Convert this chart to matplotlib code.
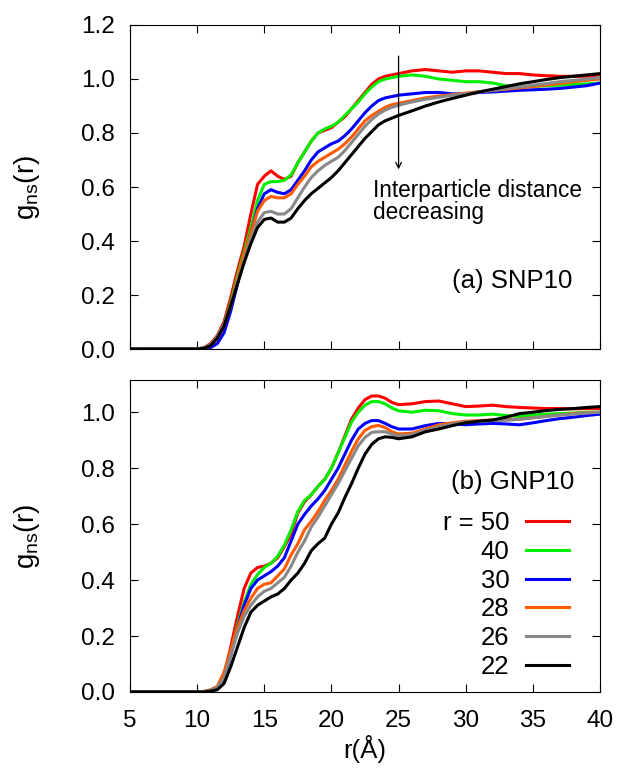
import matplotlib
matplotlib.use("Agg")
import matplotlib.pyplot as plt

plt.rcParams['font.family'] = ['Liberation Sans', 'DejaVu Sans']
plt.rcParams['mathtext.default'] = 'regular'

# distance grid (Angstrom)
r = [5, 10, 10.5, 11, 11.5, 12, 12.5, 13, 13.5, 14, 14.5, 15, 15.5, 16, 16.5, 17,
     17.5, 18, 18.5, 19, 19.5, 20, 20.5, 21, 21.5, 22, 22.5, 23, 23.5, 24, 24.5,
     25, 26, 27, 28, 29, 30, 31, 32, 33, 34, 35, 36, 37, 38, 39, 40]

labels = ['r = 50', '40', '30', '28', '26', '22']
colors = ['#ff0000', '#00ee00', '#0000ff', '#ff5a00', '#888888', '#000000']

# (a) SNP10
snp_50 = [0, 0, 0.005, 0.02, 0.05, 0.10, 0.19, 0.29, 0.38, 0.50, 0.61, 0.64, 0.66, 0.64,
          0.628, 0.64, 0.69, 0.73, 0.77, 0.80, 0.81, 0.82, 0.84, 0.86, 0.89, 0.92, 0.95,
          0.98, 1.0, 1.01, 1.015, 1.02, 1.03, 1.035, 1.03, 1.025, 1.03, 1.03, 1.025,
          1.02, 1.02, 1.015, 1.012, 1.01, 1.01, 1.01, 1.015]
snp_40 = [0, 0, 0.004, 0.015, 0.045, 0.09, 0.17, 0.27, 0.36, 0.45, 0.55, 0.61, 0.62,
          0.62, 0.625, 0.645, 0.69, 0.73, 0.77, 0.80, 0.815, 0.825, 0.84, 0.865, 0.89,
          0.915, 0.945, 0.97, 0.99, 1.0, 1.005, 1.01, 1.015, 1.01, 1.0, 0.995, 0.99,
          0.99, 0.985, 0.975, 0.97, 0.972, 0.975, 0.977, 0.98, 0.982, 0.985]
snp_30 = [0, 0, 0.0, 0.005, 0.02, 0.06, 0.14, 0.24, 0.34, 0.43, 0.52, 0.575, 0.59, 0.58,
          0.575, 0.59, 0.625, 0.66, 0.70, 0.73, 0.745, 0.76, 0.77, 0.79, 0.815, 0.845,
          0.875, 0.9, 0.92, 0.93, 0.935, 0.94, 0.945, 0.95, 0.95, 0.945, 0.945, 0.95,
          0.952, 0.955, 0.958, 0.96, 0.962, 0.965, 0.97, 0.975, 0.985]
snp_28 = [0, 0, 0.003, 0.012, 0.04, 0.085, 0.16, 0.26, 0.35, 0.43, 0.51, 0.55, 0.565,
          0.56, 0.56, 0.575, 0.61, 0.64, 0.675, 0.695, 0.71, 0.725, 0.74, 0.76, 0.785,
          0.815, 0.845, 0.865, 0.88, 0.895, 0.905, 0.91, 0.92, 0.93, 0.937, 0.942,
          0.948, 0.953, 0.958, 0.962, 0.967, 0.972, 0.978, 0.983, 0.99, 0.995, 1.0]
snp_26 = [0, 0, 0.005, 0.015, 0.045, 0.09, 0.16, 0.25, 0.33, 0.41, 0.47, 0.505, 0.51,
          0.50, 0.50, 0.52, 0.56, 0.60, 0.635, 0.66, 0.68, 0.695, 0.71, 0.735, 0.765,
          0.795, 0.825, 0.85, 0.87, 0.885, 0.895, 0.903, 0.915, 0.925, 0.932, 0.94,
          0.945, 0.952, 0.958, 0.965, 0.97, 0.977, 0.983, 0.99, 0.995, 1.0, 1.005]
snp_22 = [0, 0, 0.003, 0.012, 0.04, 0.085, 0.16, 0.24, 0.32, 0.39, 0.45, 0.48, 0.485,
          0.47, 0.47, 0.485, 0.52, 0.55, 0.575, 0.595, 0.615, 0.635, 0.66, 0.69, 0.72,
          0.75, 0.78, 0.805, 0.83, 0.845, 0.855, 0.865, 0.882, 0.9, 0.915, 0.928, 0.94,
          0.952, 0.962, 0.972, 0.982, 0.99, 0.998, 1.005, 1.01, 1.015, 1.02]

# (b) GNP10
gnp_50 = [0, 0, 0.0, 0.005, 0.015, 0.06, 0.16, 0.27, 0.37, 0.425, 0.445, 0.45, 0.46,
          0.48, 0.52, 0.565, 0.64, 0.68, 0.705, 0.735, 0.76, 0.80, 0.855, 0.915, 0.975,
          1.015, 1.045, 1.058, 1.058, 1.05, 1.035, 1.027, 1.03, 1.038, 1.04, 1.03, 1.02,
          1.022, 1.025, 1.02, 1.017, 1.015, 1.013, 1.013, 1.012, 1.013, 1.013]
gnp_40 = [0, 0, 0, 0.004, 0.012, 0.05, 0.14, 0.24, 0.32, 0.385, 0.42, 0.445, 0.46,
          0.485, 0.525, 0.58, 0.645, 0.685, 0.705, 0.735, 0.76, 0.80, 0.855, 0.91,
          0.965, 1.0, 1.025, 1.038, 1.038, 1.03, 1.015, 1.005, 1.0, 1.007, 1.005, 0.995,
          0.99, 0.99, 0.993, 0.988, 0.985, 0.99, 0.993, 0.995, 0.997, 1.0, 1.0]
gnp_30 = [0, 0, 0, 0.004, 0.012, 0.05, 0.13, 0.23, 0.31, 0.37, 0.40, 0.415, 0.43, 0.45,
          0.48, 0.54, 0.6, 0.635, 0.665, 0.69, 0.72, 0.76, 0.8, 0.85, 0.9, 0.94, 0.96,
          0.97, 0.97, 0.96, 0.948, 0.94, 0.94, 0.952, 0.96, 0.958, 0.955, 0.958, 0.96,
          0.958, 0.955, 0.962, 0.97, 0.977, 0.982, 0.988, 0.993]
gnp_28 = [0, 0, 0.002, 0.008, 0.02, 0.07, 0.15, 0.23, 0.29, 0.335, 0.37, 0.385, 0.39,
          0.415, 0.44, 0.49, 0.53, 0.58, 0.61, 0.645, 0.685, 0.72, 0.76, 0.81, 0.86,
          0.905, 0.935, 0.948, 0.953, 0.945, 0.93, 0.922, 0.925, 0.94, 0.955, 0.962,
          0.968, 0.97, 0.972, 0.973, 0.975, 0.98, 0.985, 0.99, 0.995, 0.998, 1.0]
gnp_26 = [0, 0, 0.002, 0.006, 0.016, 0.05, 0.13, 0.21, 0.27, 0.31, 0.34, 0.36, 0.37,
          0.39, 0.41, 0.45, 0.5, 0.54, 0.59, 0.625, 0.665, 0.705, 0.745, 0.79, 0.835,
          0.88, 0.91, 0.928, 0.93, 0.93, 0.922, 0.915, 0.92, 0.935, 0.948, 0.958, 0.965,
          0.968, 0.97, 0.971, 0.975, 0.98, 0.985, 0.99, 0.993, 0.997, 1.0]
gnp_22 = [0, 0, 0, 0.003, 0.008, 0.03, 0.09, 0.16, 0.23, 0.285, 0.31, 0.325, 0.34, 0.35,
          0.37, 0.4, 0.425, 0.46, 0.505, 0.53, 0.55, 0.6, 0.64, 0.695, 0.745, 0.8, 0.85,
          0.885, 0.905, 0.912, 0.91, 0.905, 0.912, 0.93, 0.94, 0.952, 0.962, 0.968,
          0.972, 0.982, 0.995, 1.0, 1.006, 1.01, 1.013, 1.017, 1.02]

snp = [snp_50, snp_40, snp_30, snp_28, snp_26, snp_22]
gnp = [gnp_50, gnp_40, gnp_30, gnp_28, gnp_26, gnp_22]

fs_tick = 17.5
fs_lab = 18.5
fig = plt.figure(figsize=(6.21, 7.71), dpi=100)
ax1 = fig.add_axes([0.2093, 0.5473, 0.7569, 0.4203])
ax2 = fig.add_axes([0.2093, 0.1025, 0.7569, 0.4046])

for ys, c, lab in zip(snp, colors, labels):
    ax1.plot(r, ys, color=c, lw=2.2)
for ys, c, lab in zip(gnp, colors, labels):
    ax2.plot(r, ys, color=c, lw=2.2, label=lab)

for ax in (ax1, ax2):
    ax.set_xlim(5, 40)
    ax.set_xticks(range(5, 41, 5))
    ax.tick_params(direction='in', top=True, right=True, labelsize=fs_tick,
                   length=6, width=0.8)
    ax.tick_params(axis='y', pad=11)
    ax.tick_params(axis='x', pad=13)
    ax.set_ylabel(r'g$_{ns}$(r)', fontsize=fs_lab + 1.5, labelpad=28)
    ax.yaxis.set_major_formatter(plt.FormatStrFormatter('%.1f'))

ax1.set_ylim(0, 1.2)
ax1.set_yticks([0, 0.2, 0.4, 0.6, 0.8, 1.0, 1.2])
ax1.tick_params(labelbottom=False)
ax2.set_ylim(0, 1.115)
ax2.set_yticks([0, 0.2, 0.4, 0.6, 0.8, 1.0])
ax2.set_xlabel('r(Å)', fontsize=fs_lab, labelpad=2)

ax1.annotate('', xy=(25, 0.655), xytext=(25, 1.095),
             arrowprops=dict(arrowstyle='->', lw=0.9, color='black'))
ax1.text(23.07, 0.63, 'Interparticle distance\ndecreasing', fontsize=16.3,
         va='top', ha='left', linespacing=0.95)
ax1.text(37.95, 0.252, '(a) SNP10', fontsize=fs_lab, ha='right', va='center')
ax2.text(38.1, 0.751, '(b) GNP10', fontsize=fs_lab, ha='right', va='center')

ax2.legend(loc='upper right', bbox_to_anchor=(0.962, 0.62), frameon=False,
           markerfirst=False, fontsize=fs_lab, handlelength=1.67,
           handletextpad=0.66, labelspacing=0.18, borderpad=0)

fig.savefig('out.png', dpi=100)
